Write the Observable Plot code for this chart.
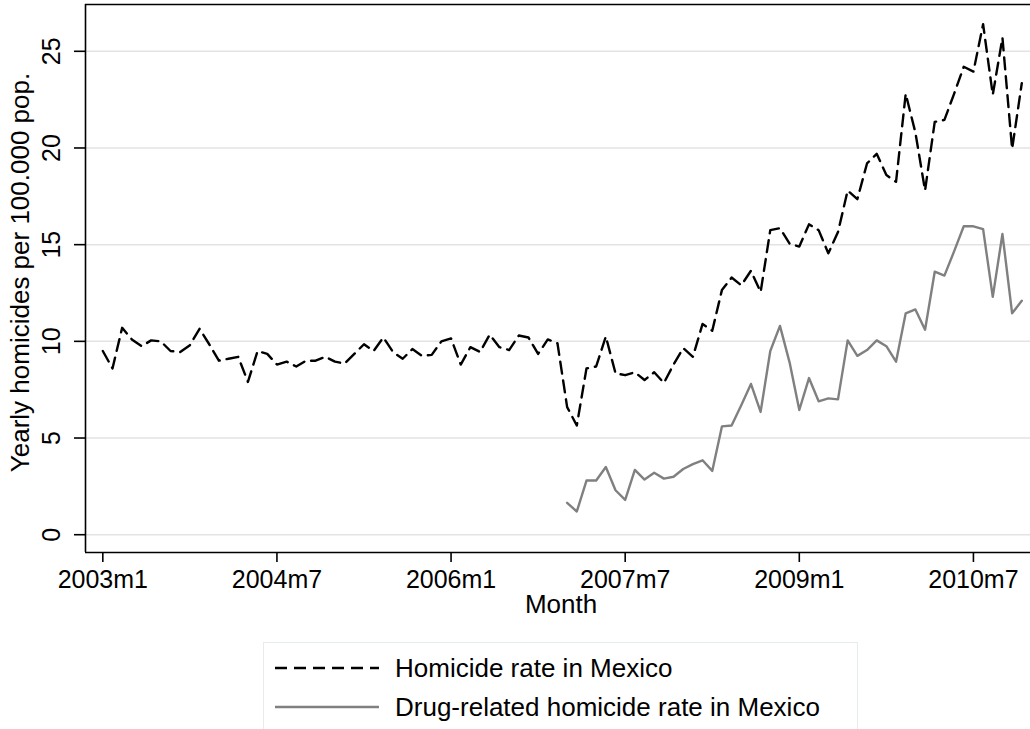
<!DOCTYPE html>
<html><head><meta charset="utf-8">
<script src="https://cdn.jsdelivr.net/npm/d3@7"></script>
<script src="https://cdn.jsdelivr.net/npm/@observablehq/plot@0.6"></script>
<style>
body{margin:0;background:#fff;font-family:"Liberation Sans",sans-serif;}
#wrap{position:relative;width:1030px;height:729px;overflow:hidden;background:#fff;}
#chart{position:absolute;left:0;top:0;}
#legend{position:absolute;left:263px;top:642px;width:595px;height:110px;border:1.5px solid #e6ecec;box-sizing:border-box;background:#fff;}
.row{position:absolute;left:11px;display:flex;align-items:center;font-size:26px;color:#000;height:30px;line-height:30px;}
.row svg{margin-right:16px;}
</style></head><body>
<div id="wrap"><div id="chart"></div><div id="legend"></div></div>
<script>
// Monthly series, 2003m1 .. 2010m12 (month index 0..95)
const startYear = 2003;
const homicideRate = [
  9.5, 8.6, 10.7, 10.1, 9.75, 10.05, 10.0, 9.5, 9.45, 9.8, 10.65, 9.85,
  9.0, 9.1, 9.2, 7.9, 9.5, 9.35, 8.8, 8.95, 8.7, 9.0, 9.0, 9.2,
  8.95, 8.85, 9.35, 9.85, 9.5, 10.2, 9.45, 9.1, 9.6, 9.25, 9.3, 10.0,
  10.15, 8.8, 9.7, 9.45, 10.35, 9.7, 9.55, 10.3, 10.2, 9.35, 10.1, 9.9,
  6.6, 5.65, 8.6, 8.7, 10.25, 8.35, 8.25, 8.4, 8.0, 8.4, 7.85, 8.8,
  9.65, 9.2, 10.9, 10.55, 12.65, 13.3, 12.9, 13.65, 12.55, 15.75, 15.85, 15.05,
  14.9, 16.05, 15.75, 14.55, 15.65, 17.8, 17.35, 19.2, 19.7, 18.6, 18.25, 22.8,
  20.8, 17.8, 21.35, 21.45, 22.8, 24.2, 23.95, 26.4, 22.75, 25.7, 19.95, 23.35
];
// Drug-related series starts 2007m1 (month index 48)
const drugStartIndex = 48;
const drugRelatedRate = [
  1.65, 1.2, 2.8, 2.8, 3.5, 2.3, 1.8, 3.35, 2.85, 3.2, 2.9, 3.0,
  3.4, 3.65, 3.85, 3.3, 5.6, 5.65, 6.7, 7.8, 6.35, 9.5, 10.8, 8.9,
  6.45, 8.1, 6.9, 7.05, 7.0, 10.05, 9.25, 9.55, 10.05, 9.75, 8.95, 11.45,
  11.65, 10.6, 13.6, 13.4, 14.65, 15.95, 15.95, 15.8, 12.3, 15.55, 11.45, 12.1
];
const xTickMonths = [0, 18, 36, 54, 72, 90];
const xTickLabels = ["2003m1", "2004m7", "2006m1", "2007m7", "2009m1", "2010m7"];
const yTicks = [0, 5, 10, 15, 20, 25];
const seriesNames = ["Homicide rate in Mexico", "Drug-related homicide rate in Mexico"];
const yTitle = "Yearly homicides per 100.000 pop.";
const xTitle = "Month";

const xDomain = [-1.79, 95.9];
const yDomain = [-0.92, 27.42];

const homData = homicideRate.map((v, i) => ({m: i, v}));
const drugData = drugRelatedRate.map((v, i) => ({m: i + drugStartIndex, v}));

const FS = 25;
const TS = 26;
const DASH = "12,7";
const plot = Plot.plot({
  width: 1030,
  height: 635,
  marginLeft: 85,
  marginRight: 0,
  marginTop: 4,
  marginBottom: 83,
  style: {fontFamily: "Liberation Sans, sans-serif", fontSize: FS + "px", background: "#fff", color: "#000"},
  x: {domain: xDomain, axis: null, label: null},
  y: {domain: yDomain, axis: null, label: null},
  marks: [
    Plot.gridY(yTicks, {stroke: "#e3e3e3", strokeOpacity: 1, strokeWidth: 1.5}),
    Plot.ruleY([yDomain[1]], {stroke: "#000", strokeWidth: 1.6}),
    Plot.ruleY([yDomain[0]], {stroke: "#000", strokeWidth: 1.6}),
    Plot.ruleX([xDomain[0]], {stroke: "#000", strokeWidth: 1.6}),
    Plot.axisY(yTicks, {tickSize: 11, tickFormat: () => "", strokeWidth: 1.6, stroke: "#000", label: null}),
    Plot.text(yTicks, {y: d => d, frameAnchor: "left", dx: -34, rotate: -90, textAnchor: "middle", fontSize: FS, fill: "#000", text: d => String(d)}),
    Plot.axisX(xTickMonths, {tickSize: 10, tickPadding: 8, strokeWidth: 1.6, stroke: "#000", fontSize: FS, fill: "#000",
      tickFormat: d => xTickLabels[xTickMonths.indexOf(d)], label: null}),
    Plot.text([xTitle], {frameAnchor: "bottom", dy: 60, dx: 3, textAnchor: "middle", fontSize: TS, fill: "#000"}),
    Plot.text([yTitle], {frameAnchor: "left", dx: -65, dy: -6, rotate: -90, textAnchor: "middle", fontSize: TS, fill: "#000"}),
    Plot.line(drugData, {x: "m", y: "v", stroke: "#808080", strokeWidth: 2.4}),
    Plot.line(homData, {x: "m", y: "v", stroke: "#000", strokeWidth: 2.4, strokeDasharray: DASH})
  ]
});
document.getElementById("chart").appendChild(plot);

// Legend
const legend = document.getElementById("legend");
const styles = [{stroke: "#000", dash: DASH}, {stroke: "#808080", dash: null}];
seriesNames.forEach((name, i) => {
  const row = document.createElement("div");
  row.className = "row";
  row.style.top = (i === 0 ? 10 : 49) + "px";
  const s = styles[i];
  row.innerHTML = `<svg width="104" height="10"><line x1="0" y1="5" x2="104" y2="5" stroke="${s.stroke}" stroke-width="2.4" ${s.dash ? `stroke-dasharray="${s.dash}"` : ""}/></svg><span>${name}</span>`;
  legend.appendChild(row);
});
</script>
</body></html>
